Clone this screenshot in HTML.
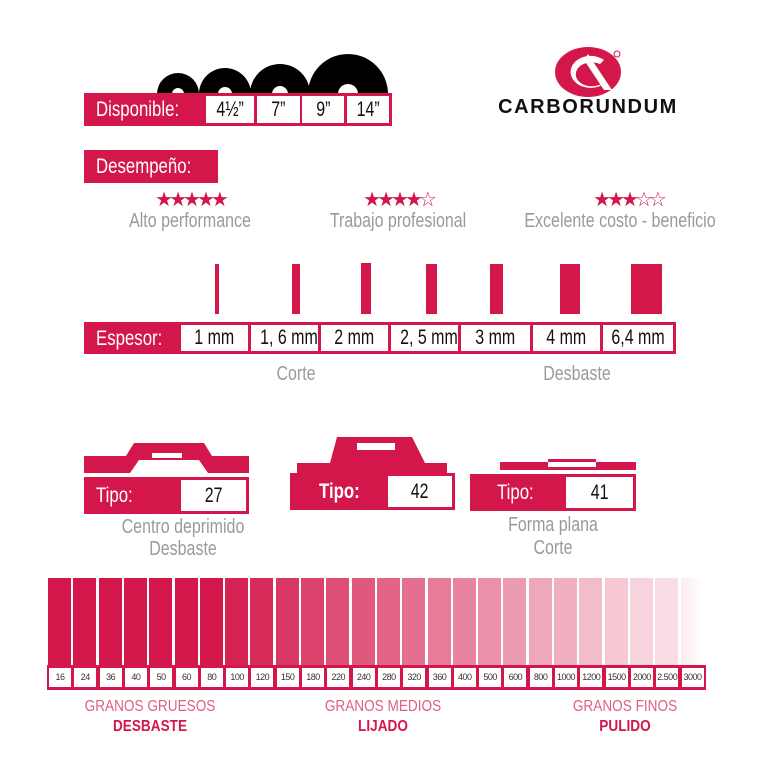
<!DOCTYPE html>
<html><head><meta charset="utf-8"><style>
*{margin:0;padding:0;box-sizing:border-box}
body{width:768px;height:770px;background:#fff;position:relative;overflow:hidden;font-family:"Liberation Sans",sans-serif}
.a{position:absolute}
.red{background:#d4174a}
.lbl{color:#fff;font-size:21px;line-height:1;transform:scaleX(.8);transform-origin:left center;white-space:nowrap}
.cell{position:absolute;background:#fff;color:#111;font-size:21px;text-align:center;white-space:nowrap}
.cell span{display:inline-block;transform:scaleX(.76)}
.g{color:#9a9a9a;font-size:20px;position:absolute;text-align:center;transform:scaleX(.8);white-space:nowrap}
.st{color:#d4174a;font-size:20px;letter-spacing:-4px;position:absolute;text-align:center;line-height:1}
.gc{position:absolute;background:#fff;font-size:9px;letter-spacing:-0.5px;color:#333;text-align:center;top:668px;height:19px;line-height:19px;white-space:nowrap;overflow:hidden}
.rt{position:absolute;text-align:center;color:#e0607f;font-size:16px;transform:scaleX(.85);white-space:nowrap}
.rb{position:absolute;text-align:center;color:#d4174a;font-size:16px;font-weight:bold;transform:scaleX(.85);white-space:nowrap}
</style></head><body>

<svg class="a" style="left:0;top:0" width="768" height="770">
<defs><clipPath id="c"><rect x="0" y="0" width="768" height="94"/></clipPath></defs>
<g clip-path="url(#c)" fill="#000">
<circle cx="178" cy="94" r="21"/><circle cx="225" cy="94" r="26"/><circle cx="280" cy="94" r="30"/><circle cx="348" cy="94" r="40"/>
</g>
<g fill="#fff"><circle cx="178" cy="94" r="6"/><circle cx="225" cy="94" r="7"/><circle cx="280" cy="94" r="8"/><circle cx="348" cy="94" r="10"/></g>
<ellipse cx="588" cy="72" rx="33" ry="25" fill="#d4174a"/>
<path d="M604 60 A20 16 0 1 0 600 86 L604 82 A16 12 0 1 1 600 64 Z" fill="#fff"/>
<path d="M588 54 L612 90 L604 90 L584 60 Z" fill="#fff"/>
<circle cx="617" cy="54" r="3" fill="none" stroke="#d4174a" stroke-width="1"/>
<g fill="#d4174a">
<rect x="215" y="264" width="4" height="50"/><rect x="292" y="264" width="8" height="50"/><rect x="361" y="263" width="10" height="51"/><rect x="426" y="264" width="11" height="50"/><rect x="490" y="264" width="13" height="50"/><rect x="560" y="264" width="20" height="50"/><rect x="631" y="264" width="31" height="50"/>
</g>
<g fill="#d4174a">
<path d="M84 456 L126 456 L134 443 L204 443 L212 456 L249 456 L249 473 L208 473 L199 460 L139 460 L130 473 L84 473 Z"/>
<path d="M297 463 L330 463 L337 437 L412 437 L425 463 L447 463 L447 473 L297 473 Z"/>
<path d="M500 462 L548 462 L548 459 L596 459 L596 462 L636 462 L636 470 L500 470 Z"/>
</g>
<g fill="#fff"><rect x="152" y="453" width="30" height="5"/><rect x="357" y="443" width="38" height="7"/><rect x="548" y="462" width="48" height="5"/></g>
</svg>

<div class="a red" style="left:84px;top:93px;width:308px;height:33px"></div>
<div class="a lbl" style="left:96px;top:99px">Disponible:</div>
<div class="cell" style="left:206px;top:96px;width:48px;height:27px;line-height:27px"><span>4½”</span></div>
<div class="cell" style="left:257px;top:96px;width:43px;height:27px;line-height:27px"><span>7”</span></div>
<div class="cell" style="left:302px;top:96px;width:42px;height:27px;line-height:27px"><span>9”</span></div>
<div class="cell" style="left:347px;top:96px;width:42px;height:27px;line-height:27px"><span>14”</span></div>

<div class="a" style="left:486px;top:96px;width:204px;text-align:center;font-weight:bold;font-size:20px;letter-spacing:1.6px;color:#111;white-space:nowrap">CARBORUNDUM</div>

<div class="a red" style="left:84px;top:150px;width:134px;height:33px"></div>
<div class="a lbl" style="left:96px;top:156px">Desempeño:</div>

<div class="st" style="left:140px;top:190px;width:100px">★★★★★</div>
<div class="st" style="left:348px;top:190px;width:100px">★★★★☆</div>
<div class="st" style="left:578px;top:190px;width:100px">★★★☆☆</div>
<div class="g" style="left:90px;top:210px;width:200px">Alto performance</div>
<div class="g" style="left:298px;top:210px;width:200px">Trabajo profesional</div>
<div class="g" style="left:490px;top:210px;width:260px">Excelente costo - beneficio</div>

<div class="a red" style="left:84px;top:322px;width:592px;height:32px"></div>
<div class="a lbl" style="left:96px;top:328px">Espesor:</div>
<div class="cell" style="left:181px;top:325px;width:67px;height:26px;line-height:26px"><span>1 mm</span></div>
<div class="cell" style="left:251px;top:325px;width:67px;height:26px;line-height:26px"><span>1, 6 mm</span></div>
<div class="cell" style="left:321px;top:325px;width:67px;height:26px;line-height:26px"><span>2 mm</span></div>
<div class="cell" style="left:391px;top:325px;width:67px;height:26px;line-height:26px"><span>2, 5 mm</span></div>
<div class="cell" style="left:461px;top:325px;width:69px;height:26px;line-height:26px"><span>3 mm</span></div>
<div class="cell" style="left:533px;top:325px;width:67px;height:26px;line-height:26px"><span>4 mm</span></div>
<div class="cell" style="left:603px;top:325px;width:70px;height:26px;line-height:26px"><span>6,4 mm</span></div>
<div class="g" style="left:246px;top:363px;width:100px">Corte</div>
<div class="g" style="left:527px;top:363px;width:100px">Desbaste</div>

<div class="a red" style="left:84px;top:477px;width:165px;height:37px"></div>
<div class="a lbl" style="left:96px;top:485px">Tipo:</div>
<div class="cell" style="left:181px;top:480px;width:65px;height:31px;line-height:31px"><span>27</span></div>
<div class="a red" style="left:290px;top:473px;width:165px;height:37px"></div>
<div class="a lbl" style="left:319px;top:481px;font-weight:bold">Tipo:</div>
<div class="cell" style="left:388px;top:476px;width:64px;height:31px;line-height:31px"><span>42</span></div>
<div class="a red" style="left:470px;top:474px;width:166px;height:37px"></div>
<div class="a lbl" style="left:497px;top:482px">Tipo:</div>
<div class="cell" style="left:566px;top:477px;width:67px;height:31px;line-height:31px"><span>41</span></div>
<div class="g" style="left:93px;top:516px;width:180px">Centro deprimido</div>
<div class="g" style="left:93px;top:538px;width:180px">Desbaste</div>
<div class="g" style="left:463px;top:514px;width:180px">Forma plana</div>
<div class="g" style="left:463px;top:537px;width:180px">Corte</div>

<div id="grit"></div>
<div class="a red" style="left:47px;top:665px;width:659px;height:25px"></div>
<div id="gl"></div>
<script>
var v=["16","24","36","40","50","60","80","100","120","150","180","220","240","280","320","360","400","500","600","800","1000","1200","1500","2000","2.500","3000"];
var h="",l="";
for(var i=0;i<26;i++){var x=48+i*25.3;var a=i<7?1:Math.max(0.05,1-(i-6)/20*0.95);
if(i==25)h+='<div class="a" style="left:'+x+'px;top:578px;width:24px;height:88px;background:linear-gradient(to right,rgba(212,23,74,0.08),rgba(212,23,74,0))"></div>';
else h+='<div class="a" style="left:'+x+'px;top:578px;width:23px;height:88px;background:rgba(212,23,74,'+a.toFixed(2)+')"></div>';
l+='<div class="gc" style="left:'+(x+1)+'px;width:22px">'+v[i]+'</div>';}
document.getElementById("grit").outerHTML=h;document.getElementById("gl").outerHTML=l;
</script>
<div class="rt" style="left:60px;top:698px;width:180px">GRANOS GRUESOS</div>
<div class="rb" style="left:60px;top:718px;width:180px">DESBASTE</div>
<div class="rt" style="left:293px;top:698px;width:180px">GRANOS MEDIOS</div>
<div class="rb" style="left:293px;top:718px;width:180px">LIJADO</div>
<div class="rt" style="left:535px;top:698px;width:180px">GRANOS FINOS</div>
<div class="rb" style="left:535px;top:718px;width:180px">PULIDO</div>
</body></html>
